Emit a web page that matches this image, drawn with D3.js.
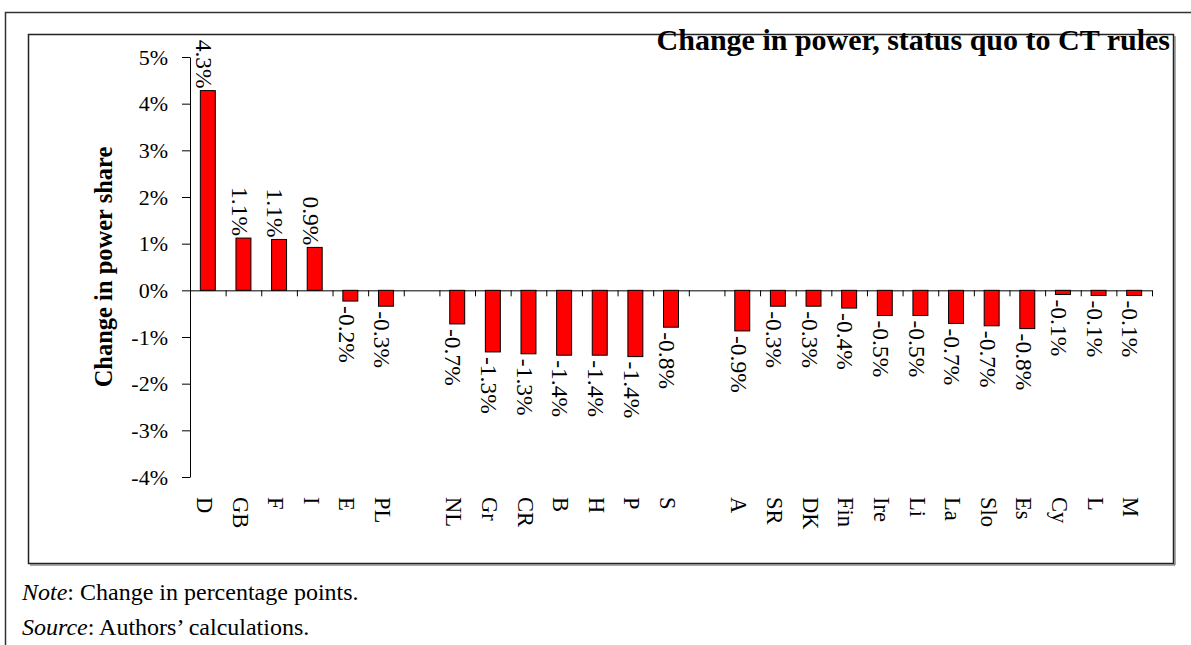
<!DOCTYPE html>
<html>
<head>
<meta charset="utf-8">
<script src="https://cdn.jsdelivr.net/npm/d3@7"></script>
<style>
  body { margin: 0; background: #fff; }
  svg { display: block; font-family: "Liberation Serif", "Times New Roman", serif; }
</style>
</head>
<body>
<svg id="chart" width="1191" height="645"></svg>
<script>
// data
var countries = ["D", "GB", "F", "I", "E", "PL", "NL", "Gr", "CR", "B", "H", "P", "S",
                 "A", "SR", "DK", "Fin", "Ire", "Li", "La", "Slo", "Es", "Cy", "L", "M"];
var changes = [4.28, 1.12, 1.09, 0.92, -0.23, -0.34, -0.72, -1.32, -1.36, -1.39, -1.39, -1.42, -0.79,
               -0.87, -0.34, -0.34, -0.38, -0.54, -0.54, -0.71, -0.76, -0.82, -0.09, -0.11, -0.11];
var labels = ["4.3%", "1.1%", "1.1%", "0.9%", "-0.2%", "-0.3%", "-0.7%", "-1.3%", "-1.3%", "-1.4%", "-1.4%", "-1.4%", "-0.8%",
              "-0.9%", "-0.3%", "-0.3%", "-0.4%", "-0.5%", "-0.5%", "-0.7%", "-0.7%", "-0.8%", "-0.1%", "-0.1%", "-0.1%"];
var gapsAfter = ["PL", "S"];
var yTicks = [-4, -3, -2, -1, 0, 1, 2, 3, 4, 5];

var svg = d3.select("#chart");

// slots, with empty ones between the groups
var slots = [];
countries.forEach(function(c){
    slots.push(c);
    if (gapsAfter.indexOf(c) >= 0) slots.push("gap_" + c);
});

var plotLeft = 190, plotRight = 1152, plotTop = 57, plotBottom = 477;

var x = d3.scaleBand().domain(slots).range([plotLeft, plotRight]).paddingInner(0.58).paddingOuter(0.29);
var xb = d3.scaleLinear().domain([0, slots.length]).range([plotLeft, plotRight]);
var y = d3.scaleLinear().domain([-4, 5]).range([plotBottom, plotTop]);

// outer frame (only top and left visible)
svg.append("path")
    .attr("d", "M5.5,645 L5.5,12.5 L1191,12.5")
    .attr("fill", "none")
    .attr("stroke", "#333")
    .attr("stroke-width", 1.5);

// inner frame, with a thin shadow on right and bottom
svg.append("rect")
    .attr("x", 28.5).attr("y", 34.5)
    .attr("width", 1145).attr("height", 529)
    .attr("fill", "none")
    .attr("stroke", "#222")
    .attr("stroke-width", 1.5);
svg.append("path")
    .attr("d", "M1175,36 L1175,565 L30,565")
    .attr("fill", "none")
    .attr("stroke", "#555")
    .attr("stroke-width", 1);

// y axis
var yAxis = svg.append("g")
    .attr("transform", "translate(" + plotLeft + ",0)")
    .call(d3.axisLeft(y).tickValues(yTicks).tickSize(8).tickSizeOuter(0).tickPadding(14)
        .tickFormat(function(d){ return d + "%"; }));
yAxis.selectAll("text").attr("font-size", 22).attr("fill", "#000").attr("font-family", "Liberation Serif");
yAxis.selectAll("line,path").attr("stroke", "#000");

// zero line with ticks between categories
var xAxis = svg.append("g")
    .attr("transform", "translate(0," + y(0) + ")")
    .call(d3.axisBottom(xb).tickValues(d3.range(1, slots.length + 1)).tickSize(6).tickSizeOuter(0)
        .tickFormat(""));
xAxis.selectAll("line,path").attr("stroke", "#000");

// bars
svg.append("g")
    .selectAll("rect")
    .data(countries)
    .enter()
    .append("rect")
    .attr("x", function(d){ return x(d); })
    .attr("width", x.bandwidth())
    .attr("y", function(d, i){ return y(Math.max(0, changes[i])); })
    .attr("height", function(d, i){ return Math.abs(y(changes[i]) - y(0)); })
    .attr("fill", "#ff0000")
    .attr("stroke", "#000")
    .attr("stroke-width", 1);

// value labels, vertical
svg.append("g")
    .selectAll("text")
    .data(countries)
    .enter()
    .append("text")
    .attr("transform", function(d, i){
        var cx = x(d) + x.bandwidth() / 2 - 3.5;
        var ty = changes[i] >= 0 ? y(changes[i]) - 2 : y(changes[i]) + 5;
        return "translate(" + cx + "," + ty + ") rotate(90)";
    })
    .attr("dy", "0.35em")
    .attr("text-anchor", function(d, i){ return changes[i] >= 0 ? "end" : "start"; })
    .attr("font-size", 23.5)
    .text(function(d, i){ return labels[i]; });

// category labels, vertical
svg.append("g")
    .selectAll("text")
    .data(countries)
    .enter()
    .append("text")
    .attr("transform", function(d){
        return "translate(" + (x(d) + x.bandwidth() / 2 - 3) + ",497) rotate(90)";
    })
    .attr("dy", "0.35em")
    .attr("text-anchor", "start")
    .attr("font-size", 22.5)
    .text(function(d){ return d; });

// axis title
svg.append("text")
    .attr("transform", "translate(112,267) rotate(-90)")
    .attr("text-anchor", "middle")
    .attr("font-size", 24.5)
    .attr("font-weight", "bold")
    .text("Change in power share");

// chart title
svg.append("text")
    .attr("x", 1170).attr("y", 50)
    .attr("text-anchor", "end")
    .attr("font-size", 30)
    .attr("font-weight", "bold")
    .text("Change in power, status quo to CT rules");

// notes
var note = svg.append("text").attr("x", 22).attr("y", 600).attr("font-size", 24);
note.append("tspan").attr("font-style", "italic").text("Note");
note.append("tspan").text(": Change in percentage points.");

var src = svg.append("text").attr("x", 22).attr("y", 635).attr("font-size", 24);
src.append("tspan").attr("font-style", "italic").text("Source");
src.append("tspan").text(": Authors\u2019 calculations.");
</script>
</body>
</html>
